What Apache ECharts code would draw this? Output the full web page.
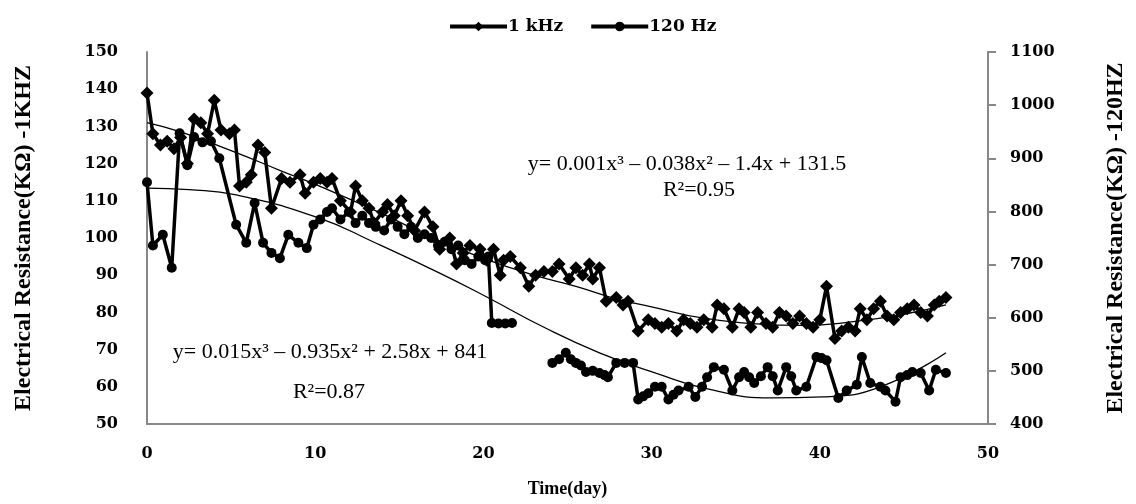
<!DOCTYPE html>
<html>
<head>
<meta charset="utf-8">
<script src="https://cdn.jsdelivr.net/npm/echarts@6/dist/echarts.min.js"></script>
<style>
html,body{margin:0;padding:0;background:#fff;}
#chart{width:1136px;height:504px;}
</style>
</head>
<body>
<div id="chart"></div>
<script>
// ---- Data ----
const xTicks = [0, 10, 20, 30, 40, 50];
const leftTicks = [50, 60, 70, 80, 90, 100, 110, 120, 130, 140, 150];
const rightTicks = [400, 500, 600, 700, 800, 900, 1000, 1100];

// 1 kHz (left axis)
const daysKHz = [0,0.35,0.8,1.2,1.6,2.0,2.4,2.8,3.2,3.6,
  4.0,4.4,4.9,5.2,5.5,5.9,6.2,6.6,7.0,7.4,
  8.0,8.5,9.1,9.4,9.9,10.3,10.7,11.0,11.5,12.1,
  12.4,12.8,13.2,13.5,14.0,14.3,14.7,15.1,15.5,15.9,
  16.5,17.0,17.4,18.0,18.4,18.8,19.2,19.8,20.2,20.6,
  21.0,21.2,21.6,22.2,22.7,23.1,23.6,24.1,24.5,25.1,
  25.5,25.9,26.3,26.5,26.9,27.3,27.9,28.3,28.6,29.2,
  29.8,30.2,30.6,31.0,31.5,31.9,32.3,32.7,33.1,33.6,
  33.9,34.3,34.8,35.2,35.5,35.9,36.3,36.8,37.2,37.6,
  38.0,38.4,38.8,39.2,39.6,40.0,40.4,40.9,41.3,41.7,
  42.1,42.4,42.8,43.2,43.6,44.0,44.4,44.8,45.2,45.6,
  46.0,46.4,46.8,47.1,47.5];
const valuesKHz = [139,128,125,126,124,127,120,132,131,128,
  137,129,128,129,114,115,117,125,123,108,
  116,115,117,112,115,116,115,116,110,107,
  114,110,108,104,107,109,106,110,106,102,
  107,103,97,100,93,96,98,97,94,97,
  90,94,95,92,87,90,91,91,93,89,
  92,90,93,89,92,83,84,82,83,75,
  78,77,76,77,75,78,77,76,78,76,
  82,81,76,81,80,76,80,77,76,80,
  79,77,79,77,76,78,87,73,75,76,
  75,81,78,81,83,79,78,80,81,82,
  80,79,82,83,84];

// 120 Hz (right axis); '-' marks the gap in the record
const days120 = [0,0.35,0.94,1.47,1.94,2.4,2.8,3.3,3.8,4.3,
  5.3,5.9,6.4,6.9,7.4,7.9,8.4,9.0,9.5,9.9,
  10.3,10.7,11.0,11.5,12.0,12.4,12.8,13.2,13.6,14.1,
  14.5,14.9,15.3,15.7,16.1,16.5,16.9,17.3,17.7,18.1,
  18.5,18.9,19.3,19.7,20.1,20.3,20.5,20.9,21.3,21.7,
  22.9,
  24.1,24.5,24.9,25.2,25.5,25.8,26.1,26.5,26.9,27.2,
  27.4,27.9,28.4,28.9,29.2,29.5,29.8,30.2,30.6,31.0,
  31.3,31.6,32.2,32.6,33.0,33.3,33.7,34.3,34.8,35.2,
  35.5,35.8,36.1,36.5,36.9,37.2,37.5,38.0,38.3,38.6,
  39.2,39.8,40.1,40.4,41.1,41.6,42.2,42.5,43.0,43.6,
  43.9,44.5,44.8,45.2,45.5,46.0,46.5,46.9,47.5];
const values120 = [855,736,756,694,947,887,940,930,932,900,
  775,741,816,741,722,712,756,741,731,775,
  785,799,806,785,799,778,792,778,771,764,
  785,771,757,771,750,757,750,736,743,729,
  736,708,701,715,708,715,590,589,589,590,
  '-',
  515,522,534,522,515,510,498,500,496,492,
  488,515,515,515,446,452,458,470,470,446,
  455,463,470,451,470,488,507,502,463,488,
  498,488,477,490,507,490,463,507,490,463,
  470,526,524,520,449,463,474,526,477,470,
  463,442,488,492,498,496,463,502,496];

// Trend lines
const trendDaysKHz = [0,2,5,8,10.5,14,17,20,23,25.5,28,30,33,36,39,42,45,47.5];
const trendKHz = [131,128.5,123.5,118,113.5,106.5,100,94.5,90,87,83.5,81.5,78.5,77,76.5,77.5,79.5,82];
const trendDays120 = [0,2.5,5.3,10.2,13.5,17.4,20.2,23.6,26.9,30.2,33.6,37.1,40.2,43.6,47.5];
const trend120 = [844,841,831,788,742,684,639,582,534,496,464,449,451,470,534];

const seriesNames = ['1 kHz', '120 Hz'];
const eqKHz = 'y= 0.001x³ – 0.038x² – 1.4x + 131.5';
const r2KHz = 'R²=0.95';
const eq120 = 'y= 0.015x³ – 0.935x² + 2.58x + 841';
const r2120 = 'R²=0.87';

// ---- Build ----
const zip = (xs, ys) => xs.map((x, i) => [x, ys[i]]);
const tickFont = {fontFamily: 'DejaVu Serif', fontWeight: 'bold', fontSize: 16, color: '#000'};
const nameFont = {fontFamily: 'Liberation Serif', fontWeight: 'bold', fontSize: 24, color: '#000'};
const axisLine = {show: true, lineStyle: {color: '#888888', width: 2}};
const plain = v => String(v);

const chart = echarts.init(document.getElementById('chart'), null, {renderer: 'canvas'});
chart.setOption({
  animation: false,
  backgroundColor: '#fff',
  grid: {left: 147, right: 140, top: 52, bottom: 80, containLabel: false},
  legend: {
    data: seriesNames,
    top: 13, left: 443,
    itemWidth: 57, itemHeight: 12, itemGap: 26,
    lineStyle: {width: 4, color: '#000'},
    textStyle: {fontFamily: 'DejaVu Serif', fontWeight: 'bold', fontSize: 17, color: '#000', padding: [0,0,0,-4]}
  },
  xAxis: {
    type: 'value', min: xTicks[0], max: xTicks[xTicks.length - 1], interval: 10,
    axisLine: axisLine, axisTick: {show: false}, splitLine: {show: false},
    axisLabel: Object.assign({margin: 22, formatter: plain}, tickFont),
    name: 'Time(day)', nameLocation: 'middle', nameGap: 56,
    nameTextStyle: Object.assign({}, nameFont, {fontSize: 18})
  },
  yAxis: [{
    type: 'value', min: leftTicks[0], max: leftTicks[leftTicks.length - 1], interval: 10,
    axisLine: axisLine, axisTick: {show: false}, splitLine: {show: false},
    axisLabel: Object.assign({margin: 29, formatter: plain}, tickFont),
    name: 'Electrical Resistance(KΩ) -1KHZ', nameLocation: 'middle', nameGap: 111, nameRotate: 90,
    nameTextStyle: nameFont
  }, {
    type: 'value', position: 'right', min: rightTicks[0], max: rightTicks[rightTicks.length - 1], interval: 100,
    axisLine: axisLine, axisTick: {show: true, length: 8, lineStyle: {color: '#888888', width: 2}}, splitLine: {show: false},
    axisLabel: Object.assign({margin: 22, formatter: plain}, tickFont),
    name: 'Electrical Resistance(KΩ) -120HZ', nameLocation: 'middle', nameGap: 116, nameRotate: 90,
    nameTextStyle: nameFont
  }],
  series: [{
    name: seriesNames[0], type: 'line', yAxisIndex: 0,
    data: zip(daysKHz, valuesKHz),
    symbol: 'diamond', symbolSize: 13, showSymbol: true, showAllSymbol: true,
    lineStyle: {color: '#000', width: 3.5}, itemStyle: {color: '#000'}, z: 3
  }, {
    name: seriesNames[1], type: 'line', yAxisIndex: 1,
    data: zip(days120, values120),
    symbol: 'circle', symbolSize: 10, showSymbol: true, showAllSymbol: true, connectNulls: false,
    lineStyle: {color: '#000', width: 3.5}, itemStyle: {color: '#000'}, z: 3
  }, {
    name: 'trend1k', type: 'line', yAxisIndex: 0, data: zip(trendDaysKHz, trendKHz),
    smooth: true, symbol: 'none', silent: true, lineStyle: {color: '#000', width: 1.3}, z: 4
  }, {
    name: 'trend120', type: 'line', yAxisIndex: 1, data: zip(trendDays120, trend120),
    smooth: true, symbol: 'none', silent: true, lineStyle: {color: '#000', width: 1.3}, z: 4
  }],
  graphic: [
    {type: 'text', x: 687, y: 164, z: 10, style: {text: eqKHz, fontFamily: 'Liberation Serif', fontSize: 22, fill: '#000', align: 'center', verticalAlign: 'middle'}},
    {type: 'text', x: 699, y: 190, z: 10, style: {text: r2KHz, fontFamily: 'Liberation Serif', fontSize: 22, fill: '#000', align: 'center', verticalAlign: 'middle'}},
    {type: 'text', x: 330, y: 352, z: 10, style: {text: eq120, fontFamily: 'Liberation Serif', fontSize: 22, fill: '#000', align: 'center', verticalAlign: 'middle'}},
    {type: 'text', x: 329, y: 392, z: 10, style: {text: r2120, fontFamily: 'Liberation Serif', fontSize: 22, fill: '#000', align: 'center', verticalAlign: 'middle'}}
  ]
});
</script>
</body>
</html>
